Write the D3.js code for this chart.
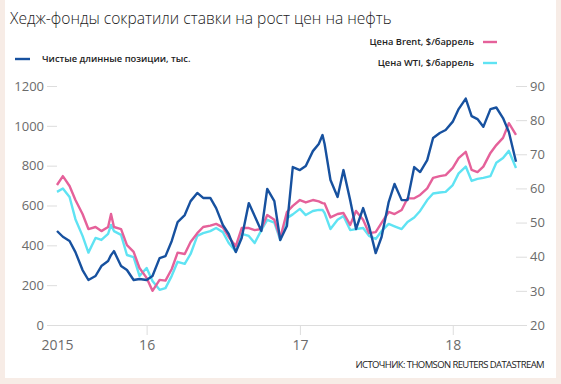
<!DOCTYPE html>
<html>
<head>
<meta charset="utf-8">
<script src="https://cdn.jsdelivr.net/npm/d3@7"></script>
<style>
  html, body { margin: 0; padding: 0; background: #f7ece6; }
  svg { display: block; }
  .title { font-family: 'Open Sans', sans-serif; font-weight: 300; font-size: 15.6px; fill: #222; }
  .legend { font-family: 'Open Sans', sans-serif; font-weight: 600; font-size: 9.3px; fill: #222; }
  .tick text { font-family: 'Open Sans', sans-serif; font-size: 13px; fill: #6b6b6b; }
  .source { font-family: 'Open Sans', sans-serif; font-size: 9.5px; fill: #222; letter-spacing: -0.6px; }
</style>
</head>
<body>
<svg id="chart" width="561" height="384"></svg>
<script>
// half-month grid plus a couple of extra points where peaks fall between
var dates = [
  '2015-06-01', '2015-06-15', '2015-07-01', '2015-07-15', '2015-08-01', '2015-08-15',
  '2015-09-01', '2015-09-15', '2015-10-01', '2015-10-08', '2015-10-15', '2015-11-01',
  '2015-11-15', '2015-12-01', '2015-12-15',
  '2016-01-01', '2016-01-15', '2016-02-01', '2016-02-15', '2016-03-01', '2016-03-15',
  '2016-04-01', '2016-04-15', '2016-05-01', '2016-05-15', '2016-06-01', '2016-06-15',
  '2016-07-01', '2016-07-15', '2016-08-01', '2016-08-15', '2016-09-01', '2016-09-15',
  '2016-10-01', '2016-10-15', '2016-11-01', '2016-11-15', '2016-12-01', '2016-12-15',
  '2017-01-01', '2017-01-15', '2017-02-01', '2017-02-15', '2017-02-24', '2017-03-01',
  '2017-03-15', '2017-04-01', '2017-04-15', '2017-05-01', '2017-05-15', '2017-06-01',
  '2017-06-15', '2017-07-01', '2017-07-15', '2017-08-01', '2017-08-15', '2017-09-01',
  '2017-09-15', '2017-10-01', '2017-10-15', '2017-11-01', '2017-11-15', '2017-12-01',
  '2017-12-15',
  '2018-01-01', '2018-01-15', '2018-02-01', '2018-02-15', '2018-03-01', '2018-03-15',
  '2018-04-01', '2018-04-15', '2018-05-01', '2018-05-15', '2018-06-01'
];

var netLongs = [
  472, 443, 422, 366, 276, 226,
  246, 296, 321, 351, 371, 296,
  276, 226, 231,
  226, 246, 336, 346, 422, 517,
  552, 622, 663, 638, 638, 587,
  502, 457, 366, 437, 612, 547,
  472, 683, 622, 427, 497, 793,
  778, 798, 873, 909, 954, 909,
  728, 643, 778, 627, 482, 587,
  497, 361, 442, 617, 708, 627,
  627, 793, 768, 828, 939, 964,
  979,
  1021, 1084, 1137, 1049, 1034, 995,
  1084, 1092, 1039, 969, 820
];

var brent = [
  61.0, 63.6, 60.7, 56.6, 52.5, 48.1,
  48.7, 47.5, 48.7, 52.5, 48.7, 48.1,
  43.4, 41.4, 36.7,
  33.8, 30.0, 33.2, 33.0, 36.4, 41.2,
  40.8, 44.3, 46.9, 48.7, 49.1, 49.6,
  48.6, 45.8, 43.1, 48.4, 48.4, 47.8,
  48.1, 52.2, 50.8, 45.5, 53.1, 54.9,
  56.6, 55.9, 56.6, 56.2, 55.7, 55.6,
  51.5, 52.5, 52.8, 49.3, 53.4, 50.8,
  46.9, 47.2, 49.9, 53.1, 52.5, 53.7,
  57.1, 57.1, 58.1, 60.0, 63.1, 63.6,
  63.9,
  66.0, 68.9, 70.7, 65.4, 64.8, 66.4,
  70.4, 72.7, 74.8, 79.1, 75.7
];

var wti = [
  59.0, 60.0, 57.5, 51.0, 46.1, 41.2,
  45.5, 44.9, 46.7, 49.3, 47.5, 46.4,
  40.5, 39.9, 34.4,
  36.7, 32.9, 30.3, 30.8, 34.4, 38.5,
  37.9, 40.8, 46.1, 46.9, 47.5, 48.4,
  47.2, 44.0, 41.5, 46.7, 46.1, 44.0,
  47.8, 50.8, 50.0, 44.9, 51.3, 52.4,
  54.0, 52.2, 53.4, 53.7, 53.7, 52.8,
  48.1, 50.8, 51.9, 47.8, 48.1, 48.4,
  46.1, 45.2, 47.5, 49.6, 48.9, 48.1,
  50.2, 51.5, 53.4, 56.6, 58.5, 58.8,
  59.0,
  61.0, 64.4, 66.4, 62.2, 62.8, 63.1,
  63.6, 67.5, 68.9, 71.0, 66.0
];

var leftTicks = [0, 200, 400, 600, 800, 1000, 1200];
var rightTicks = [20, 30, 40, 50, 60, 70, 80, 90];
var yearTicks = ['2015-06-01', '2016-01-01', '2017-01-01', '2018-01-01'];
var yearLabels = ['2015', '16', '17', '18'];

var svg = d3.select('#chart');
var parse = d3.timeParse('%Y-%m-%d');

// white panel with the beige frame left/right/bottom
svg.append('rect')
  .attr('x', 5).attr('y', 0)
  .attr('width', 551).attr('height', 378)
  .attr('fill', '#fff');

var x = d3.scaleTime()
  .domain([parse('2015-06-01'), parse('2018-06-01')])
  .range([57, 516]);
var yLeft = d3.scaleLinear().domain([0, 1200]).range([325, 86]);
var yRight = d3.scaleLinear().domain([20, 90]).range([325, 86]);

var rows = dates.map(function(d, i) {
  return { date: parse(d), net: netLongs[i], brent: brent[i], wti: wti[i] };
});

// axes
var leftAxis = d3.axisLeft(yLeft).tickValues(leftTicks).tickFormat(d3.format('d'))
  .tickSize(10).tickPadding(3);
var gl = svg.append('g').attr('transform', 'translate(57,0)').call(leftAxis);
gl.select('.domain').remove();
gl.selectAll('.tick line').attr('stroke', '#ddd');

var rightAxis = d3.axisRight(yRight).tickValues(rightTicks).tickSize(11).tickPadding(3);
var gr = svg.append('g').attr('transform', 'translate(516,0)').call(rightAxis);
gr.select('.domain').remove();
gr.selectAll('.tick line').attr('stroke', '#ddd');

svg.append('line')
  .attr('x1', 47).attr('x2', 527)
  .attr('y1', 325.5).attr('y2', 325.5)
  .attr('stroke', '#ddd');

var bottomAxis = d3.axisBottom(x)
  .tickValues(yearTicks.map(parse))
  .tickFormat(function(d, i) { return yearLabels[i]; })
  .tickSize(10).tickPadding(5);
var gb = svg.append('g').attr('transform', 'translate(0,325)').call(bottomAxis);
gb.select('.domain').remove();
gb.selectAll('.tick line').attr('stroke', '#ddd');
gb.select('.tick line').remove();
gb.selectAll('.tick text').style('font-size', '14px');

// lines
function drawLine(key, scale, color) {
  var line = d3.line()
    .x(function(d) { return x(d.date); })
    .y(function(d) { return scale(d[key]); });
  svg.append('path')
    .datum(rows)
    .attr('d', line)
    .attr('fill', 'none')
    .attr('stroke', color)
    .attr('stroke-width', 2.4)
    .attr('stroke-linejoin', 'round');
}
drawLine('wti', yRight, '#5fe3f3');
drawLine('brent', yRight, '#e5619a');
drawLine('net', yLeft, '#17519f');

// title, legend, source
svg.append('text').attr('class', 'title')
  .attr('x', 10).attr('y', 24)
  .text('Хедж-фонды сократили ставки на рост цен на нефть');

svg.append('line').attr('x1', 15).attr('x2', 30).attr('y1', 59).attr('y2', 59)
  .attr('stroke', '#17519f').attr('stroke-width', 2.4);
svg.append('text').attr('class', 'legend')
  .attr('x', 42).attr('y', 62)
  .text('Чистые длинные позиции, тыс.');

svg.append('text').attr('class', 'legend')
  .attr('x', 474).attr('y', 45).attr('text-anchor', 'end')
  .text('Цена Brent,  $/баррель');
svg.append('line').attr('x1', 483).attr('x2', 497).attr('y1', 42).attr('y2', 42)
  .attr('stroke', '#e5619a').attr('stroke-width', 2.4);

svg.append('text').attr('class', 'legend')
  .attr('x', 474).attr('y', 66).attr('text-anchor', 'end')
  .text('Цена WTI,  $/баррель');
svg.append('line').attr('x1', 483).attr('x2', 497).attr('y1', 63).attr('y2', 63)
  .attr('stroke', '#5fe3f3').attr('stroke-width', 2.4);

svg.append('text').attr('class', 'source')
  .attr('x', 544).attr('y', 368).attr('text-anchor', 'end')
  .text('ИСТОЧНИК: THOMSON REUTERS DATASTREAM');
</script>
</body>
</html>
